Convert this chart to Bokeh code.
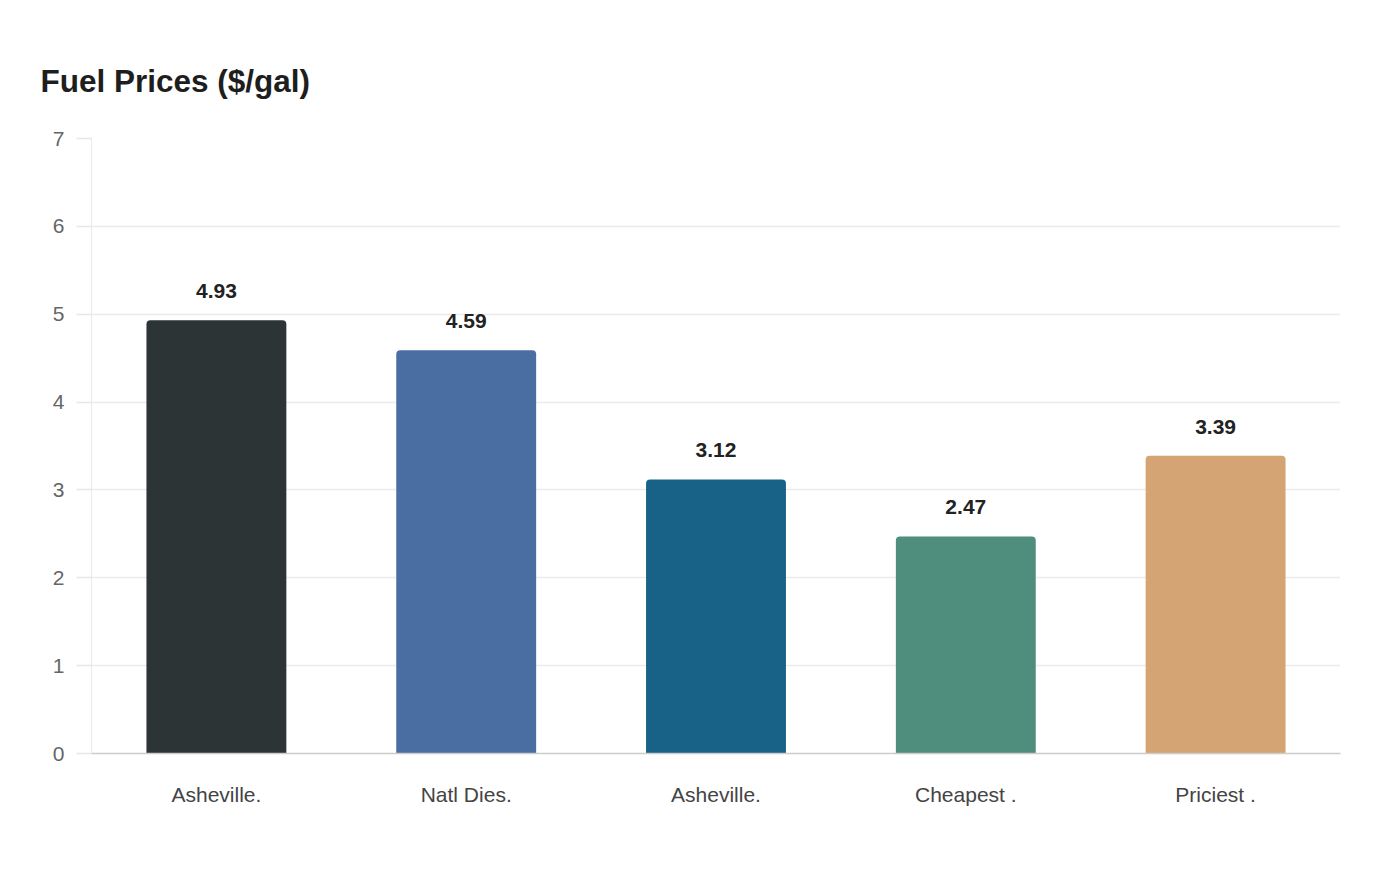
from bokeh.plotting import figure
from bokeh.models import ColumnDataSource, Range1d, FixedTicker
from bokeh.core.properties import value
from bokeh.embed import file_html
from bokeh.resources import INLINE

categories = ["Asheville.", "Natl Dies.", "Asheville.", "Cheapest .", "Priciest ."]
prices = [4.93, 4.59, 3.12, 2.47, 3.39]
colors = ["#2d3436", "#4a6ea1", "#186187", "#4f8e7c", "#d4a474"]
y_ticks = [0, 1, 2, 3, 4, 5, 6, 7]

xs = list(range(1, len(categories) + 1))
src = ColumnDataSource(dict(
    x=xs, top=prices, color=colors,
    label=["%.2f" % v for v in prices],
))

p = figure(width=1384, height=864, output_backend="svg", toolbar_location=None,
           x_range=Range1d(0.5, len(categories) + 0.5), y_range=Range1d(0, 7),
           title="Fuel Prices ($/gal)")
p.min_border_left = 91
p.min_border_right = 44
p.min_border_top = 138
p.min_border_bottom = 111
p.outline_line_color = None
p.background_fill_color = "white"
p.border_fill_color = "white"

p.title.text_font = "Liberation Sans"
p.title.text_font_style = "bold"
p.title.text_font_size = "31.5px"
p.title.text_color = "#1e1e1e"
p.title.align = "left"
p.title.offset = -51
p.title.standoff = 79

p.vbar(x="x", top="top", width=0.56, bottom=0, source=src, fill_color="color",
       line_color=None, border_radius=(4, 4, 0, 0))

p.text(x="x", y="top", text="label", source=src, text_align="center",
       text_baseline="middle", y_offset=-29, text_font=value("Liberation Sans"),
       text_font_style="bold", text_font_size="21px", text_color="#222222")

# grid
p.xgrid.grid_line_color = None
p.ygrid.grid_line_color = "#ebebeb"
p.ygrid.grid_line_width = 1.5
p.ygrid.ticker = FixedTicker(ticks=y_ticks)

# y axis
p.yaxis.ticker = FixedTicker(ticks=y_ticks)
p.yaxis.axis_line_color = "#d5d5d5"
p.yaxis.axis_line_dash = "1 1"
p.yaxis.major_tick_line_color = "#e6e6e6"
p.yaxis.major_tick_line_width = 1.5
p.yaxis.major_tick_out = 15
p.yaxis.major_tick_in = 0
p.yaxis.minor_tick_line_color = None
p.yaxis.major_label_text_font = "Liberation Sans"
p.yaxis.major_label_text_font_size = "21px"
p.yaxis.major_label_text_color = "#666666"
p.yaxis.major_label_standoff = 12

# x axis
p.xaxis.ticker = FixedTicker(ticks=xs)
p.xaxis.major_label_overrides = {i: c for i, c in zip(xs, categories)}
p.xaxis.axis_line_color = "#cccccc"
p.xaxis.axis_line_width = 1.5
p.xaxis.major_tick_line_color = None
p.xaxis.minor_tick_line_color = None
p.xaxis.major_label_text_font = "Liberation Sans"
p.xaxis.major_label_text_font_size = "21px"
p.xaxis.major_label_text_color = "#444444"
p.xaxis.major_label_standoff = 23

open("out.html", "w").write(file_html(p, INLINE))
